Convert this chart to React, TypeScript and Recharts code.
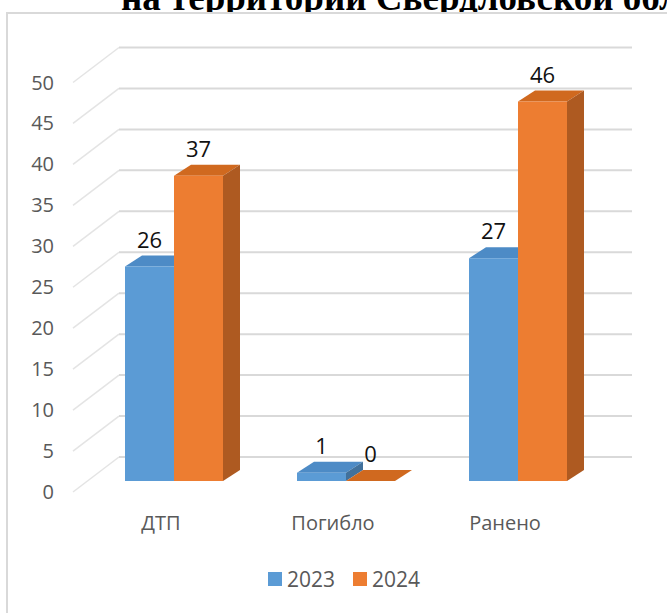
import React from "react"
import { BarChart, Bar, XAxis, YAxis, CartesianGrid, Legend, LabelList } from "recharts"

const categories = ["ДТП", "Погибло", "Ранено"]
const values2023 = [26, 1, 27]
const values2024 = [37, 0, 46]
const seriesNames = ["2023", "2024"]
const yTicks = [0, 5, 10, 15, 20, 25, 30, 35, 40, 45, 50]
const title = "на территории Свердловской области"

const data = categories.map((name, i) => ({
    name,
    v2023: values2023[i],
    v2024: values2024[i],
}))

const BLUE = { front: "#5b9bd5", top: "#4d8bc6", side: "#41719c" }
const ORANGE = { front: "#ed7d31", top: "#d0691f", side: "#ae5a21" }

// depth shift of bars (they sit inside the box) and of the back wall
const BAR_SHIFT = 13
const BAR_DX = 17
const BAR_DY = -11
const WALL_DX = 44
const WALL_DY = -35

const FONT = "'Open Sans', 'Noto Sans', sans-serif"

function Box3D(props: any) {
    const { x, y, width, height, colors } = props
    const X = x + BAR_SHIFT
    const w = width
    const h = Math.max(height, 0)
    return (
        <g>
            <polygon
                points={`${X},${y} ${X + BAR_DX},${y + BAR_DY} ${X + w + BAR_DX},${y + BAR_DY} ${X + w},${y}`}
                fill={colors.top}
            />
            <polygon
                points={`${X + w},${y} ${X + w + BAR_DX},${y + BAR_DY} ${X + w + BAR_DX},${y + h + BAR_DY} ${X + w},${y + h}`}
                fill={colors.side}
            />
            <rect x={X} y={y} width={w} height={h} fill={colors.front} />
        </g>
    )
}

function GridLine(p: any) {
    const { x1, y1, x2 } = p
    // skip the plot-top edge line, keep only the tick lines
    if (typeof p.y === "number" && Math.abs(y1 - p.y) < 1) return <g key={p.key} />
    return (
        <g key={p.key}>
            <line x1={x1 - 2} y1={y1} x2={x1 + WALL_DX} y2={y1 + WALL_DY} stroke="#e4e4e4" strokeWidth={1.5} />
            <line x1={x1 + WALL_DX} y1={y1 + WALL_DY} x2={x2 + WALL_DX - 3} y2={y1 + WALL_DY} stroke="#d9d9d9" strokeWidth={2} />
        </g>
    )
}

function ValueLabel(p: any) {
    const { x, y, width, value } = p
    return (
        <text x={x + width / 2 + BAR_SHIFT} y={y - 19} textAnchor="middle" fontSize={22} fontFamily={FONT} fill="#111">
            {value}
        </text>
    )
}

function CatTick(p: any) {
    const { x, payload } = p
    return (
        <text x={x} y={530} textAnchor="middle" fontSize={20} fontFamily={FONT} fill="#595959">
            {payload.value}
        </text>
    )
}

function ValTick(p: any) {
    const { y, payload } = p
    return (
        <text x={54} y={y + 7} textAnchor="end" fontSize={20} fontFamily={FONT} fill="#595959">
            {payload.value}
        </text>
    )
}

function LegendContent() {
    const items = [
        { name: seriesNames[0], color: BLUE.front },
        { name: seriesNames[1], color: ORANGE.front },
    ]
    return (
        <div style={{ display: "flex", alignItems: "center", fontFamily: FONT, fontSize: 21, color: "#595959" }}>
            {items.map((it, i) => (
                <div key={it.name} style={{ display: "flex", alignItems: "center", marginLeft: i ? 18 : 0 }}>
                    <span style={{ width: 14, height: 14, background: it.color, display: "inline-block", marginRight: 5 }} />
                    <span style={{ lineHeight: "24px" }}>{it.name}</span>
                </div>
            ))}
        </div>
    )
}

export default function App() {
    return (
        <div style={{ position: "absolute", left: 0, top: 0, width: 667, height: 613, overflow: "hidden", background: "#fff" }}>
            <svg width={667} height={40} style={{ position: "absolute", left: 0, top: 0 }}>
                <text x={121} y={10} fontFamily="'Liberation Serif', 'Times New Roman', serif" fontWeight="bold" fontSize={37} fill="#000">
                    {title}
                </text>
            </svg>
            <div
                style={{
                    position: "absolute",
                    left: 6,
                    top: 12,
                    width: 720,
                    height: 720,
                    border: "2px solid #d9d9d9",
                    background: "#fff",
                }}
            />
            <div style={{ position: "absolute", left: 0, top: 0 }}>
                <BarChart
                    width={667}
                    height={613}
                    data={data}
                    margin={{ top: 68.5, right: 76, bottom: 120, left: 74 }}
                    barGap={0}
                    barSize={49}
                >
                    <CartesianGrid yAxisId="lab" vertical={false} horizontal={GridLine} />
                    <XAxis dataKey="name" axisLine={false} tickLine={false} tickSize={0} tickMargin={0} height={1} tick={<CatTick />} interval={0} />
                    <YAxis
                        yAxisId="lab"
                        type="number"
                        domain={[0, 51.71]}
                        ticks={yTicks}
                        interval={0}
                        allowDataOverflow
                        axisLine={false}
                        tickLine={false}
                        width={1}
                        tick={<ValTick />}
                    />
                    <YAxis yAxisId="bar" type="number" domain={[-1.333, 50]} allowDataOverflow hide width={1} />
                    <Legend
                        verticalAlign="middle"
                        align="center"
                        layout="horizontal"
                        content={<LegendContent />}
                        wrapperStyle={{ top: 567, left: 268, width: 200 }}
                    />
                    <Bar yAxisId="bar" dataKey="v2023" name={seriesNames[0]} fill={BLUE.front} isAnimationActive={false} shape={(p: any) => <Box3D {...p} colors={BLUE} />}>
                        <LabelList dataKey="v2023" content={<ValueLabel />} />
                    </Bar>
                    <Bar yAxisId="bar" dataKey="v2024" name={seriesNames[1]} fill={ORANGE.front} isAnimationActive={false} shape={(p: any) => <Box3D {...p} colors={ORANGE} />}>
                        <LabelList dataKey="v2024" content={<ValueLabel />} />
                    </Bar>
                </BarChart>
            </div>
        </div>
    )
}
